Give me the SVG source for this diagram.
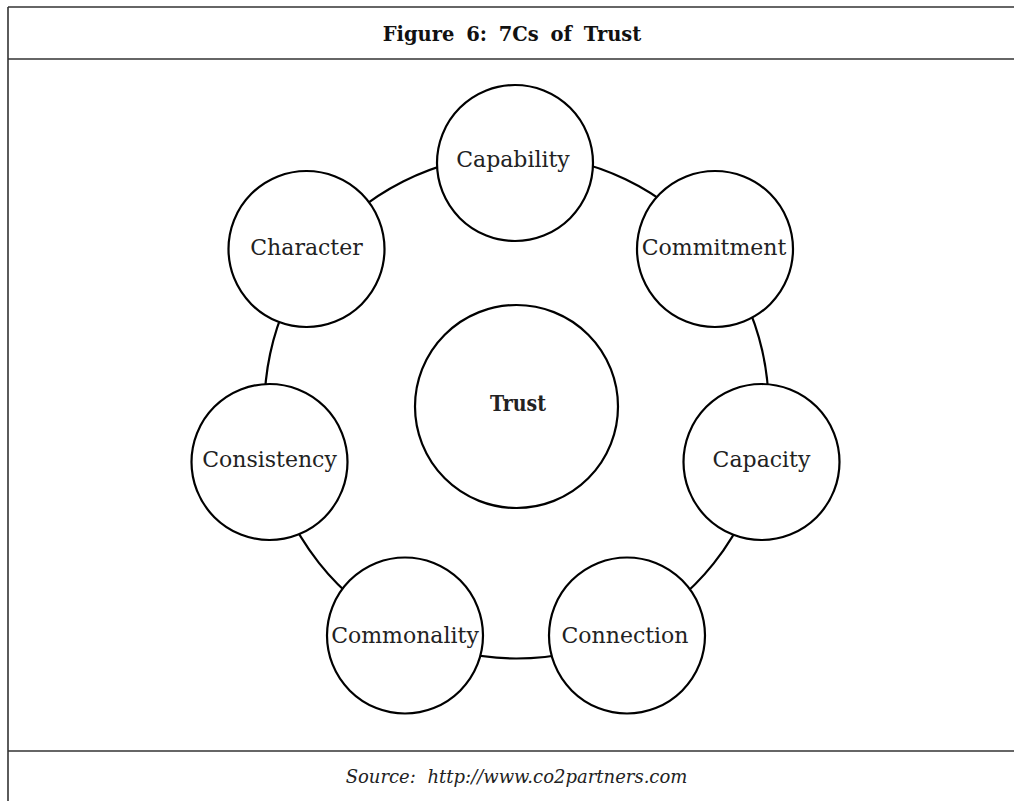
<svg xmlns="http://www.w3.org/2000/svg" width="1014" height="801" viewBox="0 0 1014 801">
<style>
.frame{stroke:#333;stroke-width:1.6;fill:none}
.ring{stroke:#000;stroke-width:2.2;fill:none}
.node{stroke:#000;stroke-width:2.2;fill:#fff}
.lbl{font-family:"DejaVu Serif",serif;font-size:22px;fill:#222;text-anchor:middle}
.title{font-family:"DejaVu Serif",serif;font-size:19.5px;font-weight:bold;fill:#111;text-anchor:middle;word-spacing:5px}
.src{font-family:"DejaVu Serif",serif;font-size:18px;font-style:italic;fill:#222;text-anchor:middle;word-spacing:6px}
</style>
<rect width="1014" height="801" fill="#fff"/>
<g id="frame">
<line class="frame" x1="8" y1="7" x2="1014" y2="7"/>
<line class="frame" x1="8" y1="7" x2="8" y2="801"/>
<line class="frame" x1="8" y1="59" x2="1014" y2="59"/>
<line class="frame" x1="8" y1="751" x2="1014" y2="751"/>
<text class="title" x="512" y="41">Figure 6: 7Cs of Trust</text>
<text class="src" x="516.5" y="783">Source: http://www.co2partners.com</text>
</g>
<g id="connectors">
<path class="ring" d="M515,154.5 A252,252 0 0,1 713.9,249.9"/>
<path class="ring" d="M713.9,249.9 A252,252 0 0,1 762.3,462.2"/>
<path class="ring" d="M762.3,462.2 A252,252 0 0,1 626,633.4"/>
<path class="ring" d="M626,633.4 A252,252 0 0,1 406.2,633.1"/>
<path class="ring" d="M406.2,633.1 A252,252 0 0,1 270.7,461.7"/>
<path class="ring" d="M270.7,461.7 A252,252 0 0,1 314.9,255.3"/>
<path class="ring" d="M314.9,255.3 A252,252 0 0,1 515,154.5"/>
</g>
<g id="trust">
<circle class="node" cx="516.5" cy="406.5" r="101.5"/>
<text class="lbl" x="518" y="411" font-weight="bold" font-size="20" textLength="56" lengthAdjust="spacingAndGlyphs">Trust</text>
</g>
<g id="capability">
<circle class="node" cx="515" cy="163" r="78"/>
<text class="lbl" x="513" y="167">Capability</text>
</g>
<g id="commitment">
<circle class="node" cx="715" cy="249" r="78"/>
<text class="lbl" x="714" y="255">Commitment</text>
</g>
<g id="capacity">
<circle class="node" cx="761.5" cy="462" r="78"/>
<text class="lbl" x="761.5" y="467">Capacity</text>
</g>
<g id="connection">
<circle class="node" cx="627" cy="635.5" r="78"/>
<text class="lbl" x="625" y="643">Connection</text>
</g>
<g id="commonality">
<circle class="node" cx="405" cy="635.5" r="78"/>
<text class="lbl" x="405" y="643">Commonality</text>
</g>
<g id="consistency">
<circle class="node" cx="269.5" cy="462" r="78"/>
<text class="lbl" x="269.5" y="467">Consistency</text>
</g>
<g id="character">
<circle class="node" cx="306.5" cy="249" r="78"/>
<text class="lbl" x="306.5" y="255">Character</text>
</g>
</svg>
